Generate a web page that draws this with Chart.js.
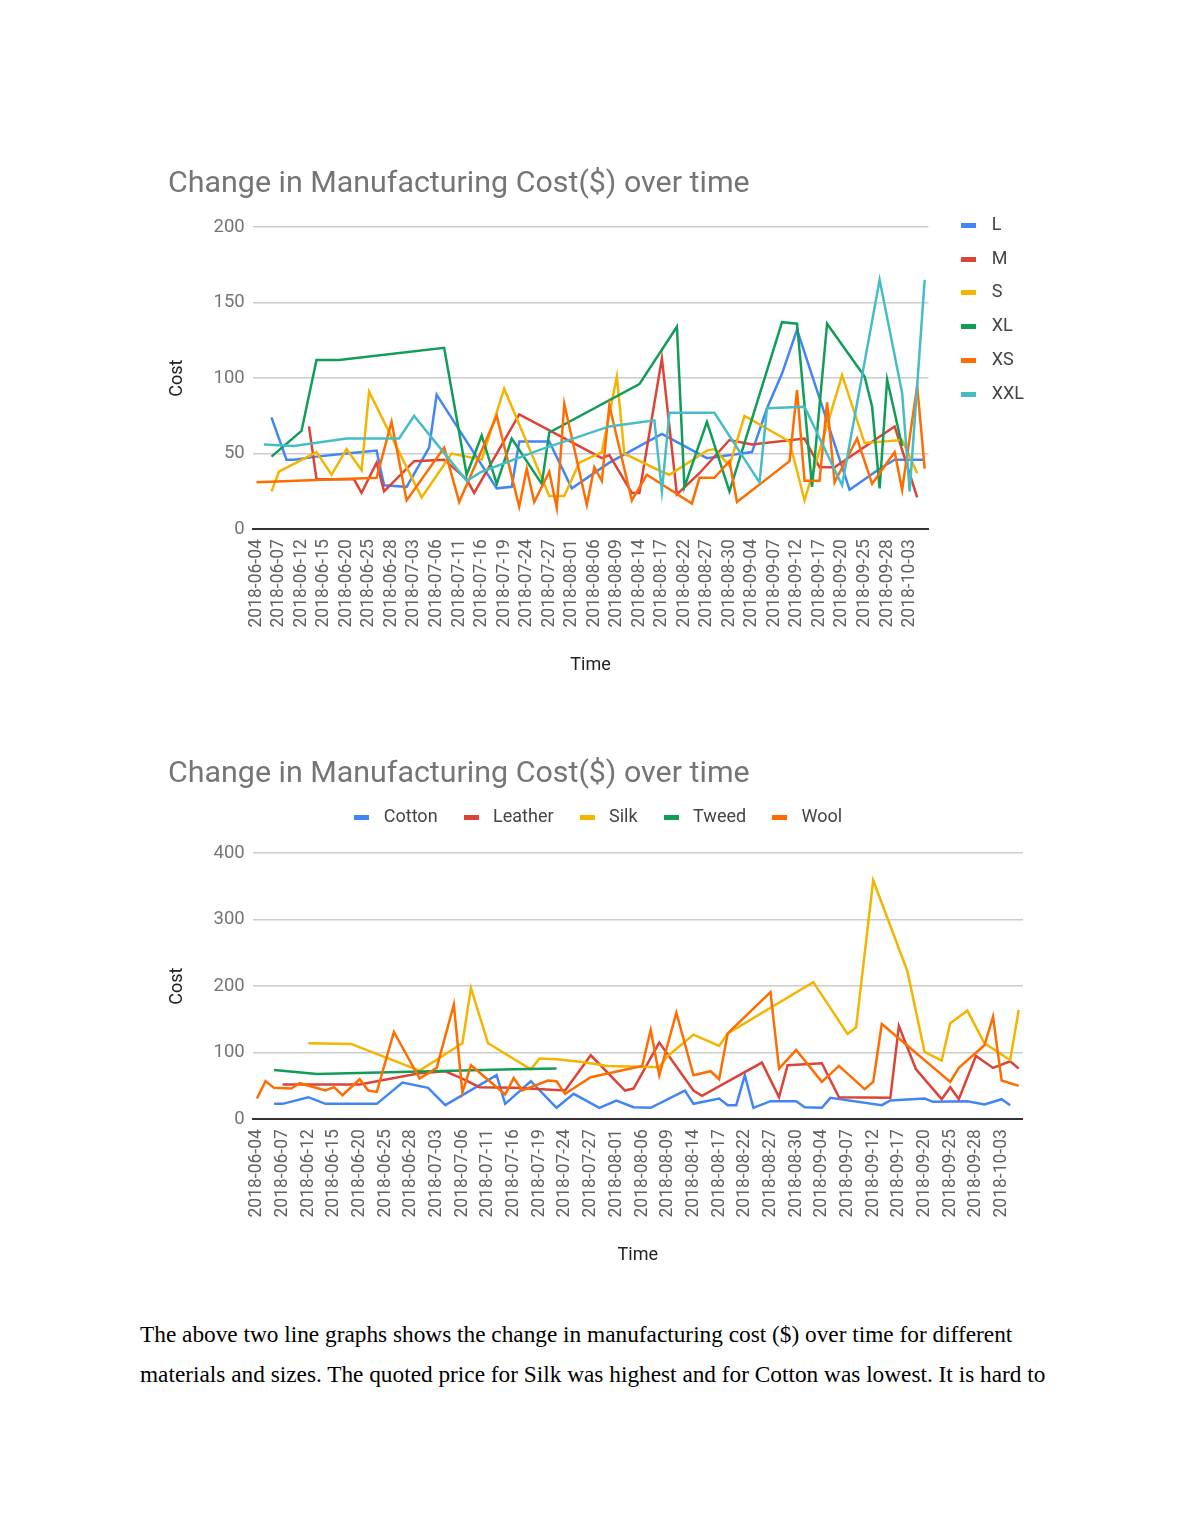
<!DOCTYPE html>
<html>
<head>
<meta charset="utf-8">
<script src="https://cdn.jsdelivr.net/npm/chart.js@4.4.1/dist/chart.umd.min.js"></script>
<style>
  body { margin: 0; background: #fff; width: 1190px; height: 1540px; position: relative; }
  .box { position: absolute; }
  #note {
    position: absolute; left: 140px; top: 1314px; width: 1000px;
    font-family: "Liberation Serif", serif; font-size: 23.3px; line-height: 40px; color: #000;
    white-space: nowrap;
  }
</style>
</head>
<body>
<div class="box" style="left:168px;top:150px"><canvas id="sizes" width="866" height="530"></canvas></div>
<div class="box" style="left:168px;top:740px"><canvas id="materials" width="855" height="530"></canvas></div>
<div id="note">The above two line graphs shows the change in manufacturing cost ($) over time for different<br>materials and sizes. The quoted price for Silk was highest and for Cotton was lowest. It is hard to</div>

<script>
// category axis: business days 2018-06-04 .. 2018-10-05
const days = [];
for (let d = new Date(Date.UTC(2018, 5, 4)); d <= new Date(Date.UTC(2018, 9, 5)); d.setUTCDate(d.getUTCDate() + 1)) {
  const wd = d.getUTCDay();
  if (wd !== 0 && wd !== 6) days.push(d.toISOString().slice(0, 10));
}

// sizes (day = index into days)
const lDay = [2,4,5,8,12,16,17,20,23,24,32,34,35,39,42,47,54,60,66,68,70,72,79,83,85,89];
const lCost = [74,46,46,48,50,52,29,28,54,89,27,28,58,58,27,44,63,47,51,80,103,132,26,40,46,46];
const mDay = [7,8,13,14,16,17,21,25,28,29,35,46,47,50,51,54,56,59,63,66,73,75,77,85,88];
const mCost = [68,33,33,24,44,25,45,46,33,24,76,47,49,24,24,113,23,37,59,56,60,41,41,68,21];
const sDay = [2,3,8,10,12,14,15,22,26,28,30,33,39,41,43,46,48,49,54,55,60,61,63,65,71,73,78,81,86,88];
const sCost = [25,38,51,36,53,39,91,21,50,48,46,93,22,22,44,51,101,50,38,36,52,53,42,75,58,19,102,57,59,37];
const xlDay = [2,6,8,11,25,28,30,32,34,38,39,51,56,57,60,63,70,72,74,76,81,82,83,84,86];
const xlCost = [48,65,112,112,120,36,62,30,60,30,64,96,134,28,71,25,137,136,28,136,101,81,27,99,55];
const xsDay = [0,16,18,20,25,27,32,35,36,37,39,40,41,44,45,46,47,50,52,58,59,61,63,64,71,72,73,75,76,77,80,82,85,86,88,89];
const xsCost = [31,34,71,19,54,18,75,15,40,18,38,14,83,16,41,32,82,19,36,17,34,34,45,18,45,92,32,32,84,31,60,30,51,26,95,40];
const xxlDay = [1,5,12,19,21,28,30,38,47,53,54,55,61,67,68,73,78,83,86,87,89];
const xxlCost = [56,55,60,60,75,32,38,53,68,72,25,77,77,31,80,81,29,165,90,25,165];

// materials
const cottonDay = [2,3,6,8,14,17,20,22,28,29,32,35,37,40,42,44,46,50,51,54,55,56,57,58,60,63,64,66,67,73,74,78,79,83,85,87,88];
const cottonCost = [23,23,33,23,23,55,47,21,66,23,57,17,38,17,28,18,17,43,23,31,21,21,66,17,27,27,18,17,32,21,28,31,26,27,22,30,21];
const leatherDay = [3,12,19,22,24,26,30,36,39,43,44,47,51,52,59,61,62,66,68,74,75,77,80,81,82,84,86,88,89];
const leatherCost = [52,52,69,72,61,48,47,43,96,43,46,115,43,35,85,33,81,84,33,32,140,75,30,48,30,95,77,87,76];
const silkDay = [6,11,19,24,25,27,32,33,35,38,41,47,48,51,54,55,65,69,70,72,76,78,80,81,83,85,88,89];
const silkCost = [114,113,73,114,197,114,75,91,90,86,80,78,95,127,110,129,206,128,138,359,222,101,88,144,163,114,89,164];
const tweedDay = [2,7,30,35];
const tweedCost = [74,68,75,76];
const woolDay = [0,1,2,4,5,8,9,10,12,13,14,16,19,21,23,24,25,29,30,31,34,35,36,39,45,46,47,49,51,53,54,55,60,61,63,66,68,71,72,73,81,82,85,86,87,89];
const woolCost = [31,57,47,46,54,43,48,36,60,43,41,131,61,77,172,40,81,37,62,43,58,57,38,63,80,134,66,160,66,72,60,129,191,76,104,56,80,45,56,143,56,77,111,154,58,50];

const sizeNames = ["L", "M", "S", "XL", "XS", "XXL"];
const materialNames = ["Cotton", "Leather", "Silk", "Tweed", "Wool"];
const colors = ["#4285F4", "#DB4437", "#F4B400", "#0F9D58", "#FF6D00", "#46BDC6"];

Chart.defaults.font.family = "Roboto";

const marker = (color) => {
  const c = document.createElement("canvas");
  c.width = 15; c.height = 5;
  const g = c.getContext("2d");
  g.fillStyle = color;
  g.fillRect(0, 0, 15, 5);
  return c;
};

const makeSets = (names, dayLists, costLists) =>
  names.map((name, i) => ({
    label: name,
    data: dayLists[i].map((d, k) => ({ x: days[d], y: costLists[i][k] })),
    borderColor: colors[i],
    backgroundColor: colors[i],
    borderWidth: 2.5,
    pointRadius: 0,
    pointHoverRadius: 0,
    pointStyle: marker(colors[i]),
    tension: 0,
    order: names.length - i,
  }));

const xAxis = () => ({
  type: "category",
  offset: true,
  grid: { display: false, drawTicks: false },
  border: { display: true, color: "#333", width: 2 },
  ticks: {
    autoSkip: false, minRotation: 90, maxRotation: 90, padding: 10,
    color: "#616161", font: { size: 17.5 },
    callback: function (v, i) { return i % 3 === 0 ? this.getLabelForValue(v) : ""; },
  },
  title: { display: true, text: "Time", color: "#222", font: { size: 18, lineHeight: 1 }, padding: { top: 18.5, bottom: 6 } },
  // rotated labels ask for room on the right; the plot should run to the edge
  afterFit: (s) => { s.paddingRight = 0; },
});

const yAxis = (max, step) => ({
  min: 0, max: max,
  ticks: { stepSize: step, padding: 8, color: "#757575", font: { size: 18.5 } },
  grid: { color: (c) => (c.tick && c.tick.value === 0 ? "#333" : "#cccccc"), lineWidth: 1.5, drawTicks: false },
  border: { display: false },
  title: { display: true, text: "Cost", color: "#222", font: { size: 18, lineHeight: 1 }, padding: { top: 0, bottom: 19.5 } },
});

const gapAxis = (pos, size) => ({
  type: "linear", position: pos, display: true,
  ticks: { display: false }, grid: { display: false, drawTicks: false }, border: { display: false },
  afterFit: (s) => { if (pos === "right") s.width = size; else s.height = size; },
});

const titleOpts = (bottom) => ({
  display: true,
  text: "Change in Manufacturing Cost($) over time",
  align: "start",
  color: "#757575",
  font: { size: 30.4, weight: "normal", lineHeight: 1 },
  padding: { top: 18.8, bottom: bottom },
});

new Chart(document.getElementById("sizes"), {
  type: "line",
  data: {
    labels: days,
    datasets: makeSets(sizeNames, [lDay, mDay, sDay, xlDay, xsDay, xxlDay], [lCost, mCost, sCost, xlCost, xsCost, xxlCost]),
  },
  options: {
    responsive: false, animation: false, events: [],
    layout: { padding: 0 },
    scales: { x: xAxis(), y: yAxis(200, 50), gap: gapAxis("right", 9.5) },
    plugins: {
      tooltip: { enabled: false },
      title: titleOpts(27.8),
      legend: {
        position: "right", align: "start",
        title: { display: true, text: " ", font: { size: 10, lineHeight: 1.2 }, padding: { top: 0, bottom: 38.5 } },
        labels: {
          usePointStyle: true, pointStyleWidth: 29, padding: 15.8,
          color: "#444", font: { size: 18 },
          sort: (a, b) => a.datasetIndex - b.datasetIndex,
        },
      },
    },
  },
});

new Chart(document.getElementById("materials"), {
  type: "line",
  data: {
    labels: days,
    datasets: makeSets(materialNames, [cottonDay, leatherDay, silkDay, tweedDay, woolDay], [cottonCost, leatherCost, silkCost, tweedCost, woolCost]),
  },
  options: {
    responsive: false, animation: false, events: [],
    layout: { padding: 0 },
    scales: { x: xAxis(), y: yAxis(400, 100), gap: gapAxis("top", 17) },
    plugins: {
      tooltip: { enabled: false },
      title: titleOpts(-1.7),
      legend: {
        position: "top", align: "center",
        labels: {
          usePointStyle: true, pointStyleWidth: 26, padding: 20.5,
          color: "#444", font: { size: 18 },
          sort: (a, b) => a.datasetIndex - b.datasetIndex,
        },
      },
    },
  },
});
</script>
</body>
</html>
